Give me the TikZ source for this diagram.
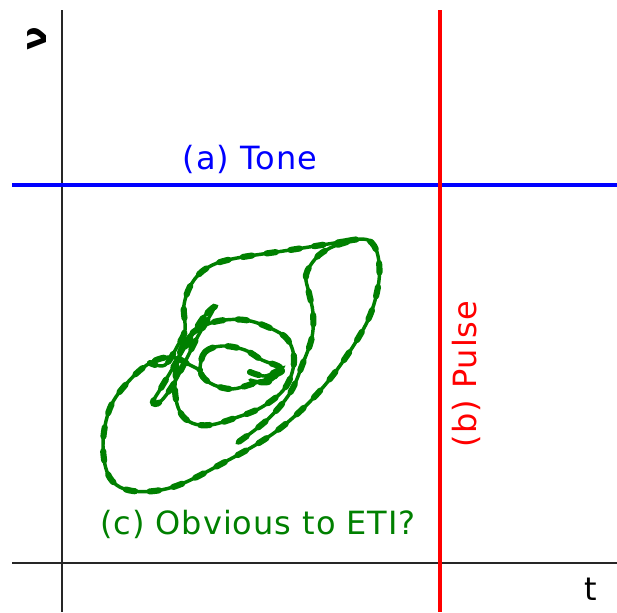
\documentclass[tikz,border=0pt]{standalone}
\usepackage{fontspec}
\setmainfont{DejaVu Sans}[LetterSpace=3]
\definecolor{eti}{RGB}{0,128,0}
\definecolor{tonecol}{RGB}{0,0,255}
\definecolor{pulsecol}{RGB}{255,0,0}
\begin{document}
\begin{tikzpicture}[x=0.75pt,y=-0.75pt,
  axis/.style={draw=black!85,line width=0.9pt},
  lab/.style={font=\fontsize{24}{28}\selectfont, inner sep=0pt},
  trail/.style={draw=eti, line width=2.6pt, line cap=round, line join=round},
  beads/.style={draw=eti, line width=4.6pt, line cap=round, dash pattern=on 7pt off 11pt}]
\useasboundingbox (0,0) rectangle (617,612);
% axes
\coordinate (ytop) at (62,10);
\coordinate (ybot) at (62,612);
\coordinate (xl) at (12,563);
\coordinate (xr) at (617,563);
\draw[axis] (ytop) -- (ybot);
\draw[axis] (xl) -- (xr);
% tone and pulse
\coordinate (tl) at (12,185);
\coordinate (tr) at (617,185);
\coordinate (pt) at (440,10);
\coordinate (pb) at (440,612);
\draw[tonecol, line width=3pt] (tl) -- (tr);
\draw[pulsecol, line width=3pt] (pt) -- (pb);
% labels
\node[lab, font=\fontsize{26}{30}\selectfont\bfseries, rotate=90] (nu) at (37,39) {ν};
\node[lab] (t) at (591,589) {t};
\node[lab, text=tonecol] (tone) at (250,159) {(a) Tone};
\node[lab, text=pulsecol, rotate=90] (pulse) at (466,374) {(b) Pulse};
\node[lab, text=eti] (eti) at (258,524) {(c) Obvious to ETI?};
% trajectory
\foreach \sty in {trail,beads}{
\draw[\sty] plot[smooth cycle, tension=0.6] coordinates {(214,307) (203,318) (188,342) (174,366) (161,388) (153,402) (160,402) (173,385) (186,360) (198,336) (211,314)};
\draw[\sty] plot[smooth cycle, tension=0.6] coordinates {(178,360) (175,390) (180,412) (192,423) (210,425) (235,418) (262,407) (285,388) (294,362) (288,340) (270,328) (245,320) (218,321) (198,329) (186,340)};
\draw[\sty] plot[smooth cycle, tension=0.6] coordinates {(200,368) (205,352) (222,346) (245,350) (262,360) (278,366) (283,372) (270,378) (252,384) (232,389) (214,385) (203,377)};
\draw[\sty] plot[smooth, tension=0.6] coordinates {(250,372) (265,376) (280,370) (268,382) (250,380)};
\draw[\sty] plot[smooth, tension=0.6] coordinates {(347,241) (368,240) (378,256) (378,287) (364,328) (325,385) (278,430) (223,463) (173,487) (133,491) (110,478) (103,445) (110,408) (128,382) (150,363) (172,357) (190,365) (200,370)};
\draw[\sty] plot[smooth, tension=0.6] coordinates {(347,241) (290,250) (232,259) (207,268) (192,283) (184,305) (185,330) (178,345) (165,365) (150,363)};
\draw[\sty] plot[smooth, tension=0.6] coordinates {(347,242) (330,248) (316,258) (306,275) (309,293) (313,313) (312,337) (303,363) (290,393) (267,420) (237,443)};
}
\end{tikzpicture}
\end{document}
